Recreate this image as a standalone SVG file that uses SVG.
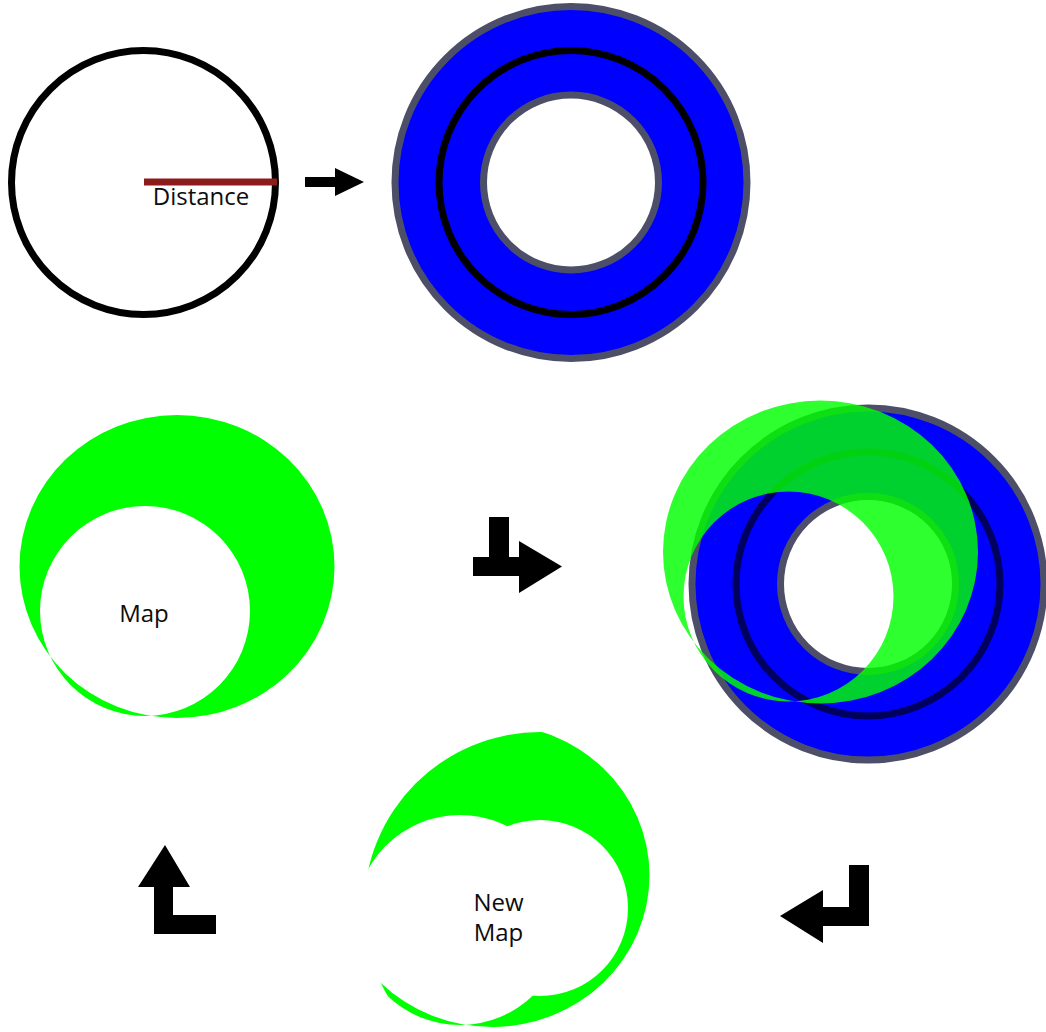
<svg xmlns="http://www.w3.org/2000/svg" width="1046" height="1032" viewBox="0 0 1046 1032">
<style>
  .lbl { font-family: "Open Sans", "Noto Sans", "Liberation Sans", sans-serif; font-size: 24px; fill: #0d0d0d; text-anchor: middle; }
  .blue { fill: #0000ff; stroke: #4d4f69; stroke-width: 7; }
  .hole { fill: #ffffff; stroke: #4d4f69; stroke-width: 7; }
  .ring { fill: none; stroke: #000000; stroke-width: 7; }
  .green { fill: #00ff00; }
  .arrow { fill: #000000; }
</style>
<defs>
  <path id="mapShape" fill-rule="evenodd" d="M-125.5,-44.5 a157.5,151.5 0 1,0 315,0 a157.5,151.5 0 1,0 -315,0 Z M-105,0 a105,105 0 1,0 210,0 a105,105 0 1,0 -210,0 Z"/>
  <clipPath id="diskClip"><circle cx="540" cy="908" r="176"/></clipPath>
</defs>
<rect width="1046" height="1032" fill="#ffffff"/>

<g id="distance-circle">
  <circle cx="143.5" cy="182.5" r="132" fill="none" stroke="#000" stroke-width="7"/>
  <line x1="144" y1="182" x2="277" y2="182" stroke="#8c1c1c" stroke-width="7"/>
  <text class="lbl" x="201" y="205">Distance</text>
</g>

<g id="donut" transform="translate(571,182.5)">
  <circle class="blue" r="176"/>
  <circle class="ring" r="132"/>
  <circle class="hole" r="87.5"/>
</g>

<g id="map">
  <use href="#mapShape" class="green" transform="translate(145,611)"/>
  <text class="lbl" x="144" y="622">Map</text>
</g>

<g id="overlay">
  <g transform="translate(868,584)">
    <circle class="blue" r="176"/>
    <circle class="ring" r="132" stroke-opacity="0.63"/>
    <circle class="hole" r="87.5"/>
  </g>
  <use href="#mapShape" class="green" fill-opacity="0.82" transform="translate(788.5,596.5)"/>
</g>

<g id="new-map">
  <g clip-path="url(#diskClip)">
    <use href="#mapShape" class="green" transform="translate(460,920)"/>
  </g>
  <circle cx="540" cy="908" r="88" fill="#ffffff"/>
  <text class="lbl" x="498.5" y="911">New</text>
  <text class="lbl" x="498.5" y="941">Map</text>
</g>

<g id="connectors">
  <polygon class="arrow" points="305,177 335,177 335,168 364,182 335,196 335,187 305,187"/>
  <polygon class="arrow" points="489,517 509,517 509,557 519,557 519,541 562,566.5 519,593 519,576 473,576 473,557 489,557"/>
  <polygon class="arrow" points="849,865 869,865 869,926 823,926 823,943 780,916 823,890 823,907 849,907"/>
  <polygon class="arrow" points="165,845 190,887 173,887 173,915 216,915 216,934 154,934 154,887 138,887"/>
</g>
</svg>
